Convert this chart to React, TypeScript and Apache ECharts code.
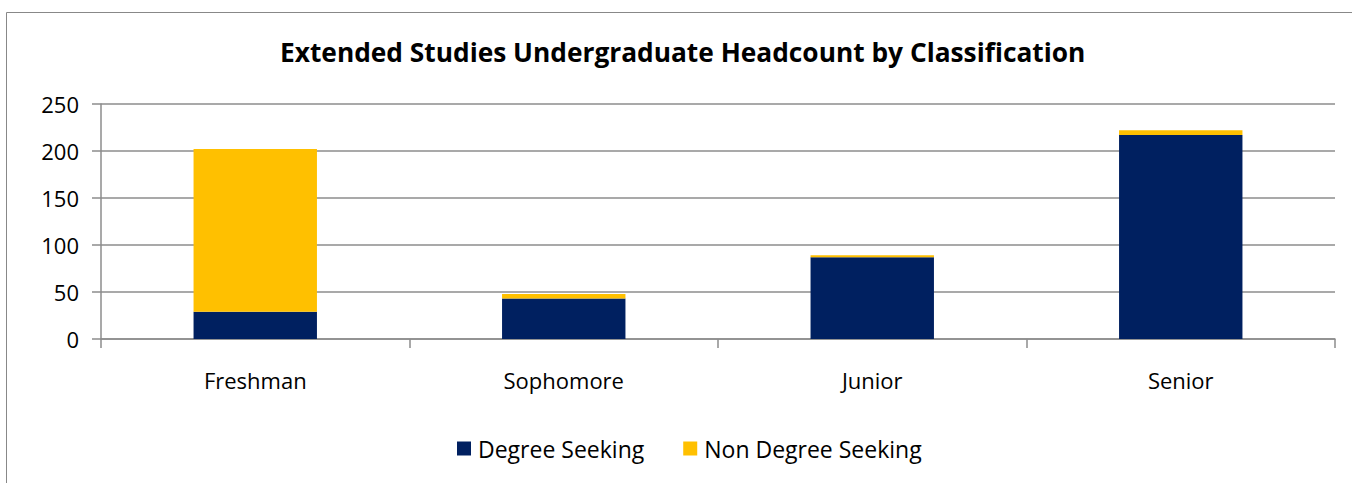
import React, { useEffect, useRef } from "react";
import * as echarts from "echarts";

const categories = ["Freshman", "Sophomore", "Junior", "Senior"];
const degreeSeeking = [29, 43, 87, 217];
const nonDegreeSeeking = [173, 5, 2, 5];
const yTicks = { min: 0, max: 250, interval: 50 };

const FONT = "'Open Sans', 'Noto Sans', sans-serif";

export default function App() {
  const ref = useRef<HTMLDivElement>(null);
  useEffect(() => {
    if (!ref.current) return;
    const chart = echarts.init(ref.current, null, { renderer: "svg" });
    chart.setOption({
      animation: false,
      backgroundColor: "#ffffff",
      title: {
        text: "Extended Studies Undergraduate Headcount by Classification",
        left: 275,
        top: 34,
        textStyle: { fontFamily: FONT, fontSize: 26.3, fontWeight: "bold", color: "#000" },
      },
      graphic: [
        {
          type: "rect",
          shape: { x: 6.5, y: 12.5, width: 1400, height: 600 },
          style: { fill: "none", stroke: "#888888", lineWidth: 1 },
          silent: true,
        },
      ],
      legend: {
        bottom: 18,
        left: 452,
        itemWidth: 14,
        itemHeight: 14,
        itemGap: 39,
        icon: "rect",
        textStyle: { fontFamily: FONT, fontSize: 23, color: "#000", padding: [0, 0, 0, 2] },
        data: ["Degree Seeking", "Non Degree Seeking"],
      },
      grid: { left: 101, right: 17, top: 104, bottom: 144, containLabel: false },
      xAxis: {
        type: "category",
        data: categories,
        axisLine: { lineStyle: { color: "#8c8c8c", width: 1.5 } },
        axisTick: { show: true, length: 9, lineStyle: { color: "#8c8c8c", width: 1.5 } },
        axisLabel: { fontFamily: FONT, fontSize: 22, color: "#000", margin: 30 },
      },
      yAxis: {
        type: "value",
        min: yTicks.min,
        max: yTicks.max,
        interval: yTicks.interval,
        axisLine: { show: true, lineStyle: { color: "#8c8c8c", width: 1.5 } },
        axisTick: { show: true, length: 9, lineStyle: { color: "#8c8c8c", width: 1.5 } },
        axisLabel: { fontFamily: FONT, fontSize: 22, color: "#000", margin: 22 },
        splitLine: { lineStyle: { color: "#8c8c8c", width: 1.5 } },
      },
      series: [
        {
          name: "Degree Seeking",
          type: "bar",
          stack: "total",
          data: degreeSeeking,
          barWidth: "40%",
          itemStyle: { color: "#002060" },
        },
        {
          name: "Non Degree Seeking",
          type: "bar",
          stack: "total",
          data: nonDegreeSeeking,
          barWidth: "40%",
          itemStyle: { color: "#FFC000" },
        },
      ],
    });
    return () => chart.dispose();
  }, []);
  return (
    <div
      ref={ref}
      style={{ position: "fixed", left: 0, top: 0, width: 1352, height: 483 }}
    />
  );
}
